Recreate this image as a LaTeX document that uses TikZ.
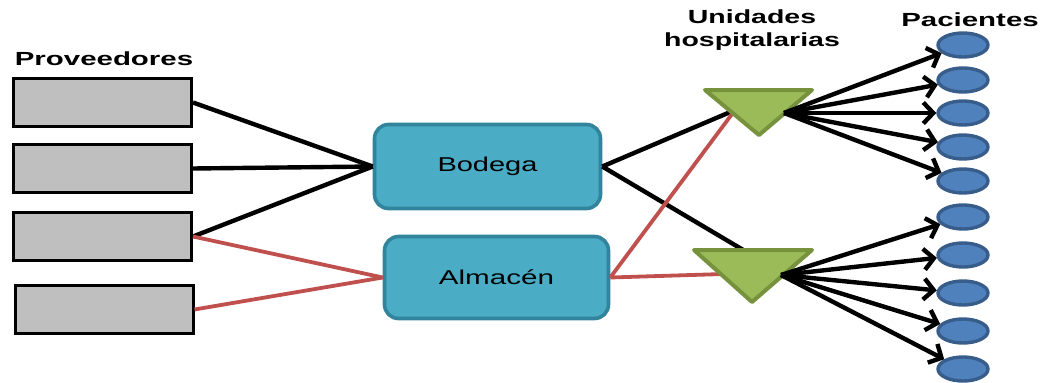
\documentclass[tikz,border=0pt]{standalone}
\usepackage{fontspec}
\setmainfont{Liberation Sans}
\usetikzlibrary{shapes.geometric,arrows.meta}

\definecolor{supplygray}{HTML}{BFBFBF}
\definecolor{depotfill}{HTML}{4BACC6}
\definecolor{depotline}{HTML}{31849B}
\definecolor{unitfill}{HTML}{9BBB59}
\definecolor{unitline}{HTML}{76923C}
\definecolor{patfill}{HTML}{4F81BD}
\definecolor{patline}{HTML}{385D8A}
\definecolor{redlink}{HTML}{C0504D}

% wide lettering
\newcommand\widetext[2]{\scalebox{#1}[1]{#2}}

\begin{document}
\begin{tikzpicture}[x=1pt,y=-1pt,
  supplier/.style={draw=black, fill=supplygray, line width=3pt,
    minimum width=178pt, minimum height=48pt, inner sep=0pt},
  depot/.style={draw=depotline, fill=depotfill, line width=3.6pt,
    rounded corners=14pt, inner sep=0pt,
    font=\fontsize{20}{24}\selectfont},
  patient/.style={ellipse, draw=patline, fill=patfill, line width=3.4pt,
    minimum width=50pt, minimum height=24pt, inner sep=0pt},
  header/.style={font=\fontsize{19}{22}\selectfont\bfseries, inner sep=0pt, align=center},
  blackline/.style={draw=black, line width=4.4pt},
  redline/.style={draw=redlink, line width=3.8pt},
  flow/.style={draw=black, line width=4.4pt,
    -{Straight Barb[length=10pt,width=21pt,line width=4.4pt]}},
  unit/.style={draw=unitline, fill=unitfill, line width=4pt, line join=round}
]
\useasboundingbox (0,0) rectangle (1050,383);

% headings
\node[header] (hprov) at (104,59) {\widetext{1.55}{Proveedores}};
\node[header] (hunit) at (752,30) {\widetext{1.5}{Unidades}\\[1pt]\widetext{1.5}{hospitalarias}};
\node[header] (hpac)  at (970,20) {\widetext{1.55}{Pacientes}};

% suppliers
\node[supplier] (p1) at (102.5,102.5) {};
\node[supplier] (p2) at (102.5,168.5) {};
\node[supplier] (p3) at (102.5,236.5) {};
\node[supplier] (p4) at (104,309.5) {};

% storage
\node[depot, minimum width=226pt, minimum height=84pt] (bod) at (487.5,166.5) {\widetext{1.45}{Bodega}};
\node[depot, minimum width=224pt, minimum height=82pt] (alm) at (496.5,277.5) {\widetext{1.48}{Almacén}};

% patients
\foreach \i/\y in {1/45,2/80,3/113,4/147,5/181} {
  \node[patient] (pa\i) at (963,\y) {};
}
\foreach \i/\y in {1/217,2/255,3/293,4/331,5/369} {
  \node[patient] (pb\i) at (963,\y) {};
}

% triangle connection points
\coordinate (t1in)  at (735,110);
\coordinate (t1out) at (784,113);
\coordinate (t2top) at (750,254);
\coordinate (t2in)  at (724,274);
\coordinate (t2out) at (781,275);

% supplier links
\draw[blackline] (p1.east) -- (bod.west);
\draw[blackline] (p2.east) -- (bod.west);
\draw[blackline] (p3.east) -- (bod.west);
\draw[redline] (p3.east) -- (alm.west);
\draw[redline] (p4.east) -- (alm.west);

% storage to units
\draw[blackline] (bod.east) -- (t1in);
\draw[blackline] (bod.east) -- (t2top);
\draw[redline] (alm.east) -- (t1in);
\draw[redline] (alm.east) -- (t2in);

% hospital units
\draw[unit] (705,90) -- (812,90) -- (759,135) -- cycle;
\draw[unit] (694,250) -- (812,250) -- (752,302) -- cycle;

% deliveries to patients
\foreach \i in {1,...,5} {
  \draw[flow] (t1out) -- (pa\i);
  \draw[flow] (t2out) -- (pb\i);
}
\end{tikzpicture}
\end{document}
